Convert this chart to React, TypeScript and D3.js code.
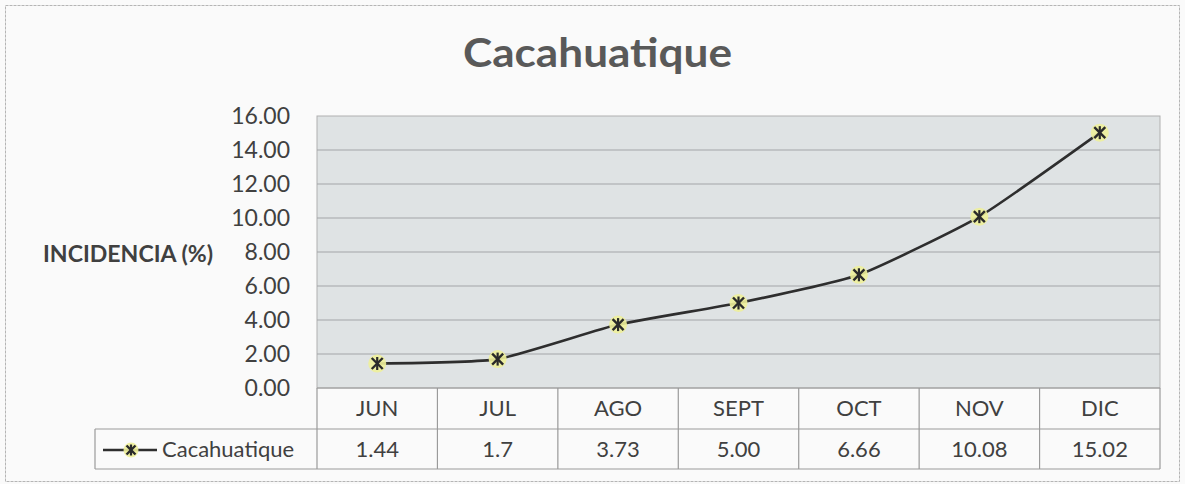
import React from "react";
import * as d3 from "d3";

const categories = ["JUN", "JUL", "AGO", "SEPT", "OCT", "NOV", "DIC"];
const values = [1.44, 1.7, 3.73, 5.0, 6.66, 10.08, 15.02];
const valueLabels = ["1.44", "1.7", "3.73", "5.00", "6.66", "10.08", "15.02"];
const yTicks = [0, 2, 4, 6, 8, 10, 12, 14, 16];
const seriesName = "Cacahuatique";
const title = "Cacahuatique";
const yTitle = "INCIDENCIA (%)";

const W = 1185;
const H = 484;
const plotL = 317;
const plotR = 1160;
const plotT = 116;
const plotB = 388;
const row1B = 429;
const row2B = 469;
const legendL = 95;
const FONT = "Lato, 'Open Sans', sans-serif";

function Marker({ x, y, r = 9, s = 5.5 }: { x: number; y: number; r?: number; s?: number }) {
  return (
    <g transform={`translate(${x},${y})`}>
      <circle r={r} fill="#eef09a" opacity={0.9} />
      <line x1={-s} y1={-s} x2={s} y2={s} stroke="#2a2a2a" strokeWidth={2.4} />
      <line x1={-s} y1={s} x2={s} y2={-s} stroke="#2a2a2a" strokeWidth={2.4} />
      <line x1={0} y1={-s - 1} x2={0} y2={s + 1} stroke="#2a2a2a" strokeWidth={2.2} />
    </g>
  );
}

export default function App() {
  const x = d3.scaleBand<string>().domain(categories).range([plotL, plotR]).padding(0);
  const y = d3.scaleLinear().domain([0, 16]).range([plotB, plotT]);
  const line = d3
    .line<number>()
    .x((_, i) => (x(categories[i]) as number) + x.bandwidth() / 2)
    .y((d) => y(d))
    .curve(d3.curveCardinal.tension(0.5));

  const grid = "#a3a6a8";
  const tbl = "#9a9a9a";

  return (
    <svg
      width={W}
      height={H}
      style={{ position: "absolute", left: 0, top: 0, background: "#fbfbfb" }}
      fontFamily={FONT}
    >
      <rect x={0} y={0} width={W} height={H} fill="#fafafa" />
      <rect x={5.5} y={5.5} width={1174} height={476} fill="none" stroke="#b5b5b5" strokeWidth={1} strokeDasharray="3 1" />
      <text x={463} y={67} fontSize={41} fontWeight={700} fill="#595959" textLength={269} lengthAdjust="spacingAndGlyphs">
        {title}
      </text>
      <text x={43} y={262} fontSize={22} fontWeight={700} fill="#404040" textLength={170} lengthAdjust="spacingAndGlyphs">
        {yTitle}
      </text>

      {/* plot area */}
      <rect x={plotL} y={plotT} width={plotR - plotL} height={plotB - plotT} fill="#dfe3e4" stroke="#b0b0b0" strokeWidth={1} />
      {yTicks.map((t) => (
        <g key={t}>
          {t > 0 && t < 16 && (
            <line x1={plotL} x2={plotR} y1={y(t)} y2={y(t)} stroke={grid} strokeWidth={1.2} />
          )}
          <text x={290} y={y(t) + 8} textAnchor="end" fontSize={23} fill="#404040">
            {t.toFixed(2)}
          </text>
        </g>
      ))}

      {/* line + markers */}
      <path d={line(values) || ""} fill="none" stroke="#2e2e2e" strokeWidth={2.6} />
      {values.map((v, i) => (
        <Marker key={i} x={(x(categories[i]) as number) + x.bandwidth() / 2} y={y(v)} />
      ))}

      {/* data table */}
      <g stroke={tbl} strokeWidth={1.2} fill="none">
        <line x1={plotL} x2={plotR} y1={plotB} y2={plotB} />
        <line x1={legendL} x2={plotR} y1={row1B} y2={row1B} />
        <line x1={legendL} x2={plotR} y1={row2B} y2={row2B} />
        <line x1={legendL} x2={legendL} y1={row1B} y2={row2B} />
        {categories.map((c) => (
          <line key={c} x1={x(c)} x2={x(c)} y1={plotB} y2={row2B} />
        ))}
        <line x1={plotR} x2={plotR} y1={plotB} y2={row2B} />
      </g>
      {categories.map((c, i) => {
        const cx = (x(c) as number) + x.bandwidth() / 2;
        return (
          <g key={c}>
            <text x={cx} y={416} textAnchor="middle" fontSize={22} fill="#404040">
              {c}
            </text>
            <text x={cx} y={457} textAnchor="middle" fontSize={22} fill="#404040">
              {valueLabels[i]}
            </text>
          </g>
        );
      })}
      {/* legend key */}
      <line x1={103} x2={157} y1={450} y2={450} stroke="#2e2e2e" strokeWidth={2.6} />
      <Marker x={131} y={450} r={7.5} s={4.5} />
      <text x={162} y={457} fontSize={22} fill="#404040">
        {seriesName}
      </text>
    </svg>
  );
}
